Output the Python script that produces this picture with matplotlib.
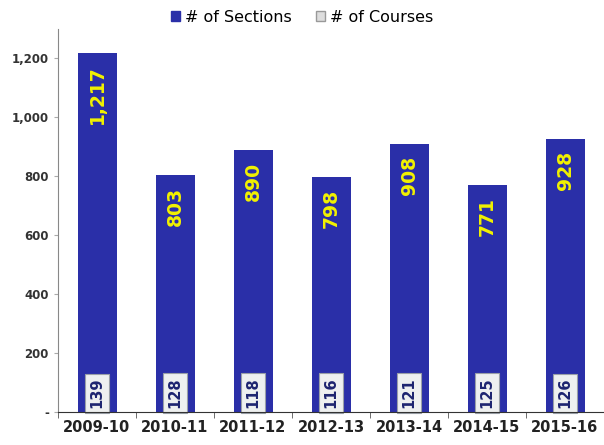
import numpy as np
import matplotlib.pyplot as plt
from matplotlib.patches import Patch

# Dane
years = ["2009-10", "2010-11", "2011-12", "2012-13", "2013-14", "2014-15", "2015-16"]
sections = [1217, 803, 890, 798, 908, 771, 928]
courses = [139, 128, 118, 116, 121, 125, 126]

bar_color = "#2a2fa8"

fig = plt.figure(figsize=(6.04, 4.45), dpi=100)
ax = fig.add_axes([58 / 604, 33 / 445, 546 / 604, 383 / 445])

x = np.arange(len(years))
ax.bar(x, sections, width=0.5, color=bar_color, zorder=2)

# etykiety sekcji (zolte, pionowe)
for xi, v in zip(x, sections):
    ax.text(xi, v - 40, f"{v:,}", rotation=90, ha="center", va="top",
            color="#f2f200", fontsize=13.5, fontweight="bold", zorder=3)

# etykiety kursow w ramkach na dole
for xi, c in zip(x, courses):
    ax.text(xi, 12, str(c), rotation=90, ha="center", va="bottom",
            color="#1d2470", fontsize=10.5, fontweight="bold", zorder=4,
            bbox=dict(boxstyle="square,pad=0.3", fc="#eef0f0", ec="#9aa0a8", lw=0.8))

ax.set_xlim(-0.5, len(years) - 0.5)
ax.set_ylim(0, 1300)
ax.set_yticks(range(0, 1201, 200))
ax.set_yticklabels(["-"] + [f"{t:,}" for t in range(200, 1201, 200)])
ax.set_xticks(x)
ax.set_xticklabels(years, fontsize=10.5, fontweight="bold", color="#222222")
ax.set_xticks(np.arange(-0.5, len(years), 1), minor=True)
ax.tick_params(axis="x", which="major", length=0, pad=6)
ax.tick_params(axis="x", which="minor", length=4, direction="out", color="#555555")
ax.tick_params(axis="y", length=3, color="#aaaaaa", labelsize=8.5, labelcolor="#333333")
for lbl in ax.get_yticklabels():
    lbl.set_fontweight("bold")

for s in ["top", "right"]:
    ax.spines[s].set_visible(False)
ax.spines["left"].set_color("#888888")
ax.spines["bottom"].set_color("#333333")
ax.spines["bottom"].set_zorder(5)

handles = [Patch(facecolor=bar_color, edgecolor=bar_color),
           Patch(facecolor="#dddddd", edgecolor="#999999")]
fig.legend(handles, ["# of Sections", "# of Courses"], loc="center",
           bbox_to_anchor=(302 / 604, 1 - 17 / 445), ncol=2, frameon=False,
           handlelength=0.6, handleheight=0.6, handletextpad=0.3, columnspacing=1.5,
           prop={"size": 11.5})

plt.savefig("out.png", dpi=100)
